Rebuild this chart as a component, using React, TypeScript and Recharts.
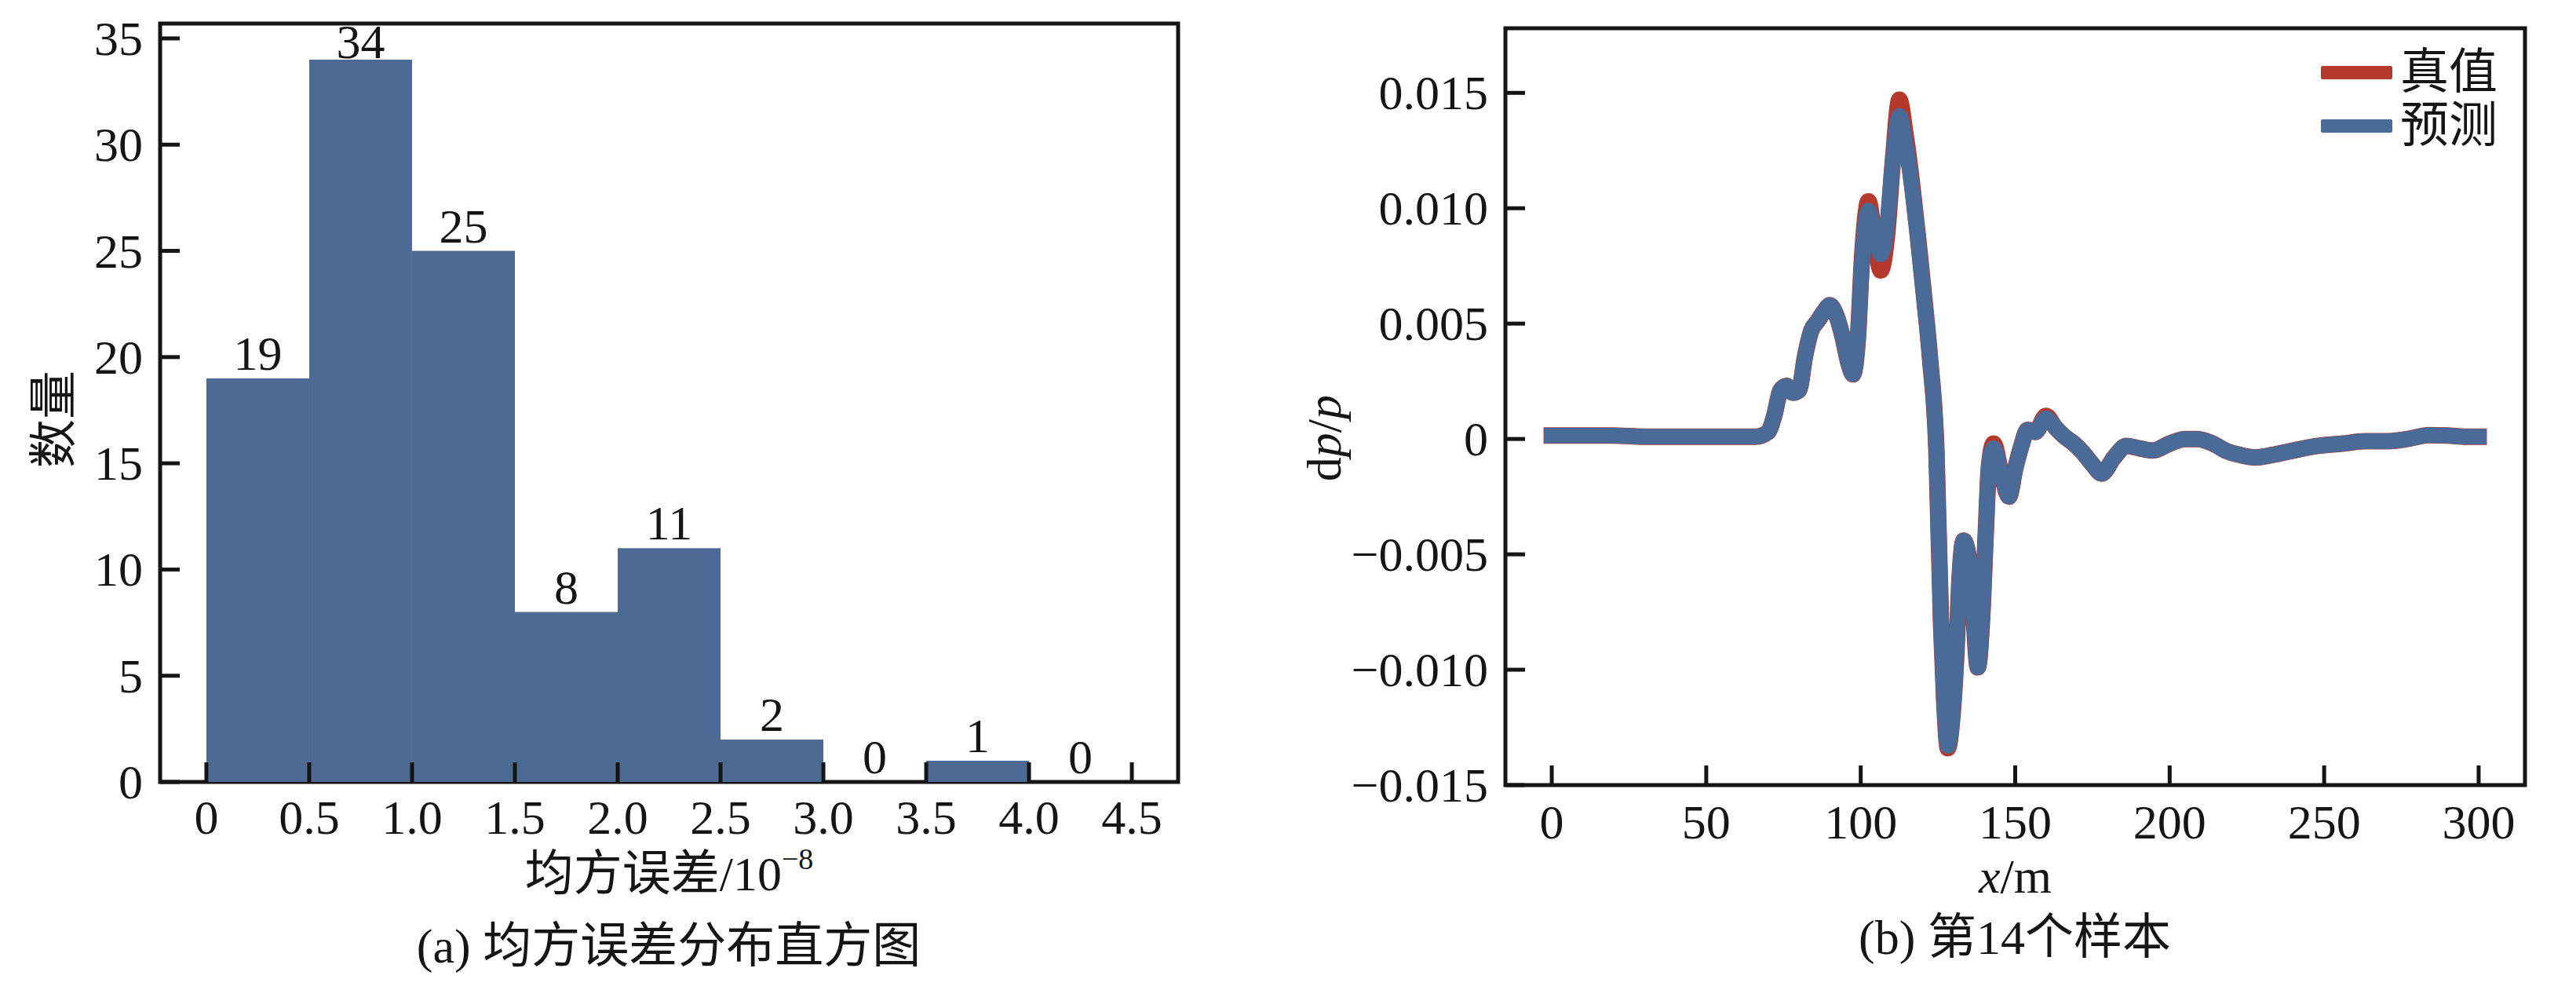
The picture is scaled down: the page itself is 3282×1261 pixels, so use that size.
import React from "react";
import {
  ComposedChart,
  Bar,
  Line,
  XAxis,
  YAxis,
  LabelList,
  Legend,
  ReferenceArea,
} from "recharts";

const SERIF = '"Liberation Serif", "Times New Roman", "Noto Sans CJK SC", serif';
const INK = "#151515";
const BAR_BLUE = "#4c6a93";
const LINE_BLUE = "#4a6b97";
const LINE_RED = "#b6392e";
const FS = 62;
const TICK = 25;
const AXIS_W = 5;

// (a) histogram of the mean squared error
const binStarts = [0, 0.5, 1.0, 1.5, 2.0, 2.5, 3.0, 3.5, 4.0];
const binCounts = [19, 34, 25, 8, 11, 2, 0, 1, 0];
const binWidth = 0.5;
const histXTicks = [0, 0.5, 1, 1.5, 2, 2.5, 3, 3.5, 4, 4.5];
const histYTicks = [0, 5, 10, 15, 20, 25, 30, 35];
const histXDomain = [-0.225, 4.725];
const histYDomain = [0, 35.7];

// (b) sample 14, dp/p along x
const sampleX = [
  0, 10, 20, 30, 40, 50, 60, 66, 70, 72, 74, 76, 78, 80, 82, 84, 86, 88, 90, 92,
  94, 96, 97.5, 99, 100.5, 102.5, 104.5, 106.5, 108.5, 110.5, 112.5, 114.5, 116.5,
  118.5, 120.5, 122.5, 124.5, 126, 127, 128.2, 129.5, 131, 132, 133.3, 134.8, 136.3,
  137.9, 139.3, 140.5, 141.5, 143, 145.5, 148, 150, 152, 154, 156.5, 160, 163, 166,
  169, 172, 175, 178, 182, 186, 190, 194.5, 200, 205, 209, 214, 218, 223, 227.5,
  233, 240, 248, 256, 263, 270, 277, 284, 290, 296, 300,
];
const trueValues = [
  0.00015, 0.00015, 0.00015, 0.0001, 0.0001, 0.0001, 0.0001, 0.0001, 0.0003, 0.001,
  0.0021, 0.0023, 0.002, 0.0021, 0.0036, 0.0047, 0.0051, 0.0055, 0.0058, 0.0054,
  0.0045, 0.0033, 0.0028, 0.0042, 0.008, 0.0103, 0.0087, 0.0073, 0.0088, 0.0122,
  0.0147, 0.0132, 0.0112, 0.0088, 0.0062, 0.0034, -0.0005, -0.008, -0.0113, -0.0134,
  -0.0123, -0.0092, -0.006, -0.0044, -0.005, -0.0072, -0.0099, -0.0078, -0.004,
  -0.0012, -0.0002, -0.0015, -0.0025, -0.0013, -0.0003, 0.0004, 0.0003, 0.001,
  0.0005, 0.0001, -0.0002, -0.0006, -0.0011, -0.0015, -0.0008, -0.0003, -0.0004,
  -0.0005, -0.0002, 0, 0, -0.0002, -0.0005, -0.0007, -0.0008, -0.0007, -0.0005,
  -0.0003, -0.0002, -0.0001, -0.0001, 0, 0.00017, 0.00015, 0.0001, 0.0001,
];
const predValues = [
  0.00015, 0.00015, 0.00015, 0.0001, 0.0001, 0.0001, 0.0001, 0.0001, 0.0003, 0.001,
  0.0021, 0.0023, 0.002, 0.0021, 0.0036, 0.0047, 0.0051, 0.0055, 0.0058, 0.0054,
  0.0045, 0.0033, 0.0028, 0.0042, 0.0078, 0.0099, 0.0089, 0.008, 0.0092, 0.0122,
  0.014, 0.0128, 0.011, 0.0087, 0.0061, 0.0034, -0.0005, -0.008, -0.0113, -0.0133,
  -0.0123, -0.0092, -0.006, -0.0044, -0.005, -0.0072, -0.0099, -0.0078, -0.004,
  -0.0012, -0.0004, -0.0015, -0.0025, -0.0013, -0.0003, 0.0004, 0.0003, 0.0009,
  0.0005, 0.0001, -0.0002, -0.0006, -0.0011, -0.0015, -0.0008, -0.0003, -0.0004,
  -0.0005, -0.0002, 0, 0, -0.0002, -0.0005, -0.0007, -0.0008, -0.0007, -0.0005,
  -0.0003, -0.0002, -0.0001, -0.0001, 0, 0.00017, 0.00015, 0.0001, 0.0001,
];
const profileXTicks = [0, 50, 100, 150, 200, 250, 300];
const profileYTicks = [-0.015, -0.01, -0.005, 0, 0.005, 0.01, 0.015];
const profileXDomain = [-15, 315];
const profileYDomain = [-0.015, 0.0178];

const histData = binStarts.map((s, i) => ({ mid: s + binWidth / 2, count: binCounts[i] }));
const profileData = sampleX.map((x, i) => ({ x, truth: trueValues[i], pred: predValues[i] }));

const fmtHistX = (v: number) => (v === 0 ? "0" : v.toFixed(1));
const fmtInt = (v: number) => String(v);
const fmtProfileY = (v: number) =>
  Math.abs(v) < 1e-9 ? "0" : (v < 0 ? "\u2212" : "") + Math.abs(v).toFixed(3);

const textProps = { fontFamily: SERIF, fontSize: FS, fill: INK };

const BottomTick = (props: any) => {
  const { x, y, payload, format, labelGap } = props;
  return (
    <g>
      <line x1={x} x2={x} y1={y} y2={y - TICK} stroke={INK} strokeWidth={AXIS_W} />
      <text x={x} y={y + labelGap} textAnchor="middle" dominantBaseline="central" {...textProps}>
        {format(payload.value)}
      </text>
    </g>
  );
};

const LeftTick = (props: any) => {
  const { x, y, payload, format } = props;
  return (
    <g>
      <line x1={x} x2={x + TICK} y1={y} y2={y} stroke={INK} strokeWidth={AXIS_W} />
      <text x={x - 22} y={y} textAnchor="end" dominantBaseline="central" {...textProps}>
        {format(payload.value)}
      </text>
    </g>
  );
};

const HIST_TOP = 30;

// count above each bin; the tallest one is kept inside the frame
const CountLabel = (props: any) => {
  const { x, y, width, value } = props;
  const cx = width ? Number(x) + Number(width) / 2 : Number(x);
  const baseline = Math.max(Number(y) - 11, HIST_TOP + 44);
  return (
    <text x={cx} y={baseline} textAnchor="middle" {...textProps}>
      {String(value)}
    </text>
  );
};

const HistXLabel = ({ viewBox }: any) => (
  <text
    x={viewBox.x + viewBox.width / 2}
    y={viewBox.y + 117}
    textAnchor="middle"
    dominantBaseline="central"
    {...textProps}
  >
    均方误差/10
    <tspan fontSize={38} dy={-19}>
      −8
    </tspan>
  </text>
);

const HistYLabel = ({ viewBox }: any) => {
  const cx = viewBox.x + viewBox.width - 135;
  const cy = viewBox.y + viewBox.height / 2 + 21;
  return (
    <text x={cx} y={cy} transform={`rotate(-90, ${cx}, ${cy})`} textAnchor="middle" dominantBaseline="central" {...textProps}>
      数量
    </text>
  );
};

const ProfileXLabel = ({ viewBox }: any) => (
  <text
    x={viewBox.x + viewBox.width / 2}
    y={viewBox.y + 116}
    textAnchor="middle"
    dominantBaseline="central"
    {...textProps}
  >
    <tspan fontStyle="italic">x</tspan>/m
  </text>
);

const ProfileYLabel = ({ viewBox }: any) => {
  const cx = viewBox.x + viewBox.width - 231;
  const cy = viewBox.y + viewBox.height / 2 + 40;
  return (
    <text x={cx} y={cy} transform={`rotate(-90, ${cx}, ${cy})`} textAnchor="middle" dominantBaseline="central" {...textProps}>
      d<tspan fontStyle="italic">p</tspan>/<tspan fontStyle="italic">p</tspan>
    </text>
  );
};

const ProfileLegend = ({ payload }: any) => (
  <div style={{ fontFamily: SERIF, fontSize: FS, color: INK }}>
    {(payload || []).map((entry: any) => (
      <div key={entry.value} style={{ display: "flex", alignItems: "center", height: 68 }}>
        <span
          style={{ display: "inline-block", width: 91, height: 17, background: entry.color, borderRadius: 2, marginRight: 10 }}
        />
        <span style={{ lineHeight: "68px" }}>{entry.value}</span>
      </div>
    ))}
  </div>
);

const captionStyle = (cx: number, cy: number): React.CSSProperties => ({
  position: "absolute",
  left: cx - 500,
  width: 1000,
  top: cy - 40,
  height: 80,
  lineHeight: "80px",
  textAlign: "center",
  fontFamily: SERIF,
  fontSize: FS,
  color: INK,
  whiteSpace: "nowrap",
});

export default function App() {
  return (
    <div style={{ position: "absolute", left: 0, top: 0, width: 3282, height: 1261, background: "#fff", overflow: "hidden" }}>
      <div style={{ position: "absolute", left: 0, top: 0 }}>
        <ComposedChart
          width={1600}
          height={1261}
          data={histData}
          margin={{ top: HIST_TOP, right: 99, bottom: 165, left: 104 }}
          barCategoryGap={0}
          barGap={0}
        >
          <Bar dataKey="count" fill={BAR_BLUE} isAnimationActive={false} />
          {/* invisible carrier so every bin (zeros too) gets its count label */}
          <Line
            dataKey="count"
            stroke="none"
            dot={false}
            activeDot={false}
            legendType="none"
            isAnimationActive={false}
          >
            <LabelList dataKey="count" content={CountLabel} />
          </Line>
          <XAxis
            type="number"
            dataKey="mid"
            domain={histXDomain}
            allowDataOverflow
            ticks={histXTicks}
            interval={0}
            height={100}
            axisLine={false}
            tickLine={false}
            tickSize={0}
            tickMargin={0}
            tick={(p: any) => <BottomTick {...p} format={fmtHistX} labelGap={45} />}
            label={HistXLabel}
          />
          <YAxis
            type="number"
            domain={histYDomain}
            allowDataOverflow
            ticks={histYTicks}
            interval={0}
            width={100}
            axisLine={false}
            tickLine={false}
            tickSize={0}
            tickMargin={0}
            tick={(p: any) => <LeftTick {...p} format={fmtInt} />}
            label={HistYLabel}
          />
          <ReferenceArea
            x1={histXDomain[0]}
            x2={histXDomain[1]}
            y1={histYDomain[0]}
            y2={histYDomain[1]}
            fill="none"
            stroke={INK}
            strokeWidth={AXIS_W}
            ifOverflow="visible"
          />
        </ComposedChart>
      </div>
      <div style={captionStyle(852, 1205)}>(a) 均方误差分布直方图</div>

      <div style={{ position: "absolute", left: 1600, top: 0 }}>
        <ComposedChart
          width={1682}
          height={1261}
          data={profileData}
          margin={{ top: 36, right: 65, bottom: 161, left: 218 }}
        >
          <Line
            type="monotone"
            dataKey="truth"
            name="真值"
            stroke={LINE_RED}
            strokeWidth={21}
            strokeLinecap="square"
            strokeLinejoin="round"
            dot={false}
            activeDot={false}
            isAnimationActive={false}
          />
          <Line
            type="monotone"
            dataKey="pred"
            name="预测"
            stroke={LINE_BLUE}
            strokeWidth={20}
            strokeLinecap="square"
            strokeLinejoin="round"
            dot={false}
            activeDot={false}
            isAnimationActive={false}
          />
          <XAxis
            type="number"
            dataKey="x"
            domain={profileXDomain}
            allowDataOverflow
            ticks={profileXTicks}
            interval={0}
            height={100}
            axisLine={false}
            tickLine={false}
            tickSize={0}
            tickMargin={0}
            tick={(p: any) => <BottomTick {...p} format={fmtInt} labelGap={47} />}
            label={ProfileXLabel}
          />
          <YAxis
            type="number"
            domain={profileYDomain}
            allowDataOverflow
            ticks={profileYTicks}
            interval={0}
            width={100}
            axisLine={false}
            tickLine={false}
            tickSize={0}
            tickMargin={0}
            tick={(p: any) => <LeftTick {...p} format={fmtProfileY} />}
            label={ProfileYLabel}
          />
          <ReferenceArea
            x1={profileXDomain[0]}
            x2={profileXDomain[1]}
            y1={profileYDomain[0]}
            y2={profileYDomain[1]}
            fill="none"
            stroke={INK}
            strokeWidth={AXIS_W}
            ifOverflow="visible"
          />
          <Legend
            layout="vertical"
            align="center"
            verticalAlign="middle"
            content={ProfileLegend}
            wrapperStyle={{ left: 1357, top: 58, width: 300 }}
          />
        </ComposedChart>
      </div>
      <div style={captionStyle(2567, 1194)}>(b) 第14个样本</div>
    </div>
  );
}
